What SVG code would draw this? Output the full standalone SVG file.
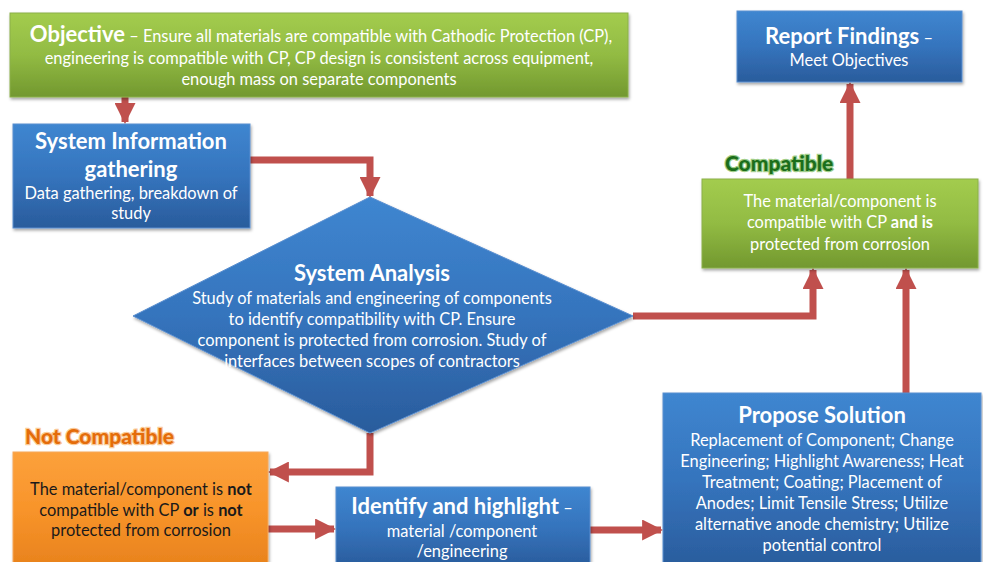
<svg xmlns="http://www.w3.org/2000/svg" width="983" height="562" viewBox="0 0 983 562">
<defs>
<linearGradient id="gGreen" x1="0" y1="0" x2="0" y2="1">
<stop offset="0" stop-color="#a3cc4e"/><stop offset="0.5" stop-color="#92bb43"/><stop offset="1" stop-color="#72982f"/>
</linearGradient>
<linearGradient id="gBlue" x1="0" y1="0" x2="0" y2="1">
<stop offset="0" stop-color="#3f86d0"/><stop offset="0.5" stop-color="#3574bd"/><stop offset="1" stop-color="#2a5c9c"/>
</linearGradient>
<linearGradient id="gOrange" x1="0" y1="0" x2="0" y2="1">
<stop offset="0" stop-color="#fca13c"/><stop offset="0.5" stop-color="#f8942a"/><stop offset="1" stop-color="#e8821d"/>
</linearGradient>
<filter id="sh" x="-5%" y="-5%" width="110%" height="115%">
<feDropShadow dx="1" dy="2" stdDeviation="1.5" flood-color="#000" flood-opacity="0.35"/>
</filter>
<marker id="ah" viewBox="0 0 10 10" refX="9" refY="5" markerWidth="3" markerHeight="3" orient="auto" markerUnits="strokeWidth">
<path d="M0,0 L10,5 L0,10 z" fill="#c0504d"/>
</marker>
<style>
.t{font-family:Lato,"Liberation Sans",sans-serif;fill:#fff;text-anchor:middle}
.h{font-weight:bold;font-size:22px}
.b{font-size:16.4px}
.dk{fill:#1a1a1a}
.con{fill:none;stroke:#c0504d;stroke-width:7;marker-end:url(#ah)}
.lbl{font-family:Lato,"Liberation Sans",sans-serif;font-weight:900;font-size:21px;stroke-width:2.5;paint-order:stroke}
</style>
</defs>

<g id="connectors">
<path class="con" d="M125,97 V122"/>
<path class="con" d="M250,160 H370 V196"/>
<path class="con" d="M633,316 H813 V270"/>
<path class="con" d="M906,393 V270"/>
<path class="con" d="M850,179 V84"/>
<path class="con" d="M370,433 V472 H270"/>
<path class="con" d="M268,529 H334"/>
<path class="con" d="M590,530 H661"/>
</g>

<g id="objective">
<rect x="10" y="13" width="618" height="84" fill="url(#gGreen)" stroke="#8bb04a" stroke-width="1" filter="url(#sh)"/>
<text class="t" x="321" y="42"><tspan class="h" font-size="24">Objective</tspan><tspan class="b" font-size="16.8"> – Ensure all materials are compatible with Cathodic Protection (CP),</tspan></text>
<text class="t b" x="319" y="64" font-size="16.8">engineering is compatible with CP, CP design is consistent across equipment,</text>
<text class="t b" x="319" y="85" font-size="16.8">enough mass on separate components</text>
</g>

<g id="report">
<rect x="737" y="11" width="225" height="71" fill="url(#gBlue)" stroke="#5a8fd0" stroke-width="1" filter="url(#sh)"/>
<text class="t" x="849" y="44"><tspan class="h">Report Findings</tspan><tspan class="b" font-size="20"> –</tspan></text>
<text class="t b" x="849" y="66">Meet Objectives</text>
</g>

<g id="sysinfo">
<rect x="13" y="124" width="237" height="104" fill="url(#gBlue)" stroke="#5a8fd0" stroke-width="1" filter="url(#sh)"/>
<text class="t h" x="131" y="149">System Information</text>
<text class="t h" x="131" y="177">gathering</text>
<text class="t b" x="131" y="199">Data gathering, breakdown of</text>
<text class="t b" x="131" y="219">study</text>
</g>

<g id="analysis">
<polygon points="370,197 633,316 370,433 133,316" fill="url(#gBlue)" stroke="#5a8fd0" stroke-width="1" filter="url(#sh)"/>
<text class="t h" x="372" y="281">System Analysis</text>
<text class="t b" x="372" y="304">Study of materials and engineering of components</text>
<text class="t b" x="372" y="325">to identify compatibility with CP. Ensure</text>
<text class="t b" x="372" y="346">component is protected from corrosion. Study of</text>
<text class="t b" x="372" y="367">interfaces between scopes of contractors</text>
</g>

<g id="compatible">
<text class="lbl" x="725" y="171" fill="#1b6e1b" stroke="#5fae3a" stroke-opacity="0.6">Compatible</text>
<rect x="702" y="179" width="276" height="89" fill="url(#gGreen)" stroke="#8bb04a" stroke-width="1" filter="url(#sh)"/>
<text class="t b" x="840" y="207">The material/component is</text>
<text class="t b" x="840" y="228">compatible with CP <tspan font-weight="bold">and is</tspan></text>
<text class="t b" x="840" y="250">protected from corrosion</text>
</g>

<g id="notcompatible">
<text class="lbl" x="25" y="444" fill="#e46c0a" stroke="#f9b26a" stroke-opacity="0.7">Not Compatible</text>
<rect x="13" y="452" width="255" height="115" fill="url(#gOrange)" stroke="#f5a75a" stroke-width="1" filter="url(#sh)"/>
<text class="t b dk" x="141" y="495">The material/component is <tspan font-weight="bold">not</tspan></text>
<text class="t b dk" x="141" y="516">compatible with CP <tspan font-weight="bold">or</tspan> is <tspan font-weight="bold">not</tspan></text>
<text class="t b dk" x="141" y="536">protected from corrosion</text>
</g>

<g id="identify">
<rect x="336" y="487" width="254" height="80" fill="url(#gBlue)" stroke="#5a8fd0" stroke-width="1" filter="url(#sh)"/>
<text class="t" x="462" y="514"><tspan class="h" font-size="21">Identify and highlight</tspan><tspan class="b" font-size="17"> –</tspan></text>
<text class="t b" x="462" y="537">material /component</text>
<text class="t b" x="462" y="557">/engineering</text>
</g>

<g id="propose">
<rect x="663" y="393" width="318" height="175" fill="url(#gBlue)" stroke="#5a8fd0" stroke-width="1" filter="url(#sh)"/>
<text class="t h" x="822" y="423">Propose Solution</text>
<text class="t b" x="822" y="446">Replacement of Component; Change</text>
<text class="t b" x="822" y="467">Engineering; Highlight Awareness; Heat</text>
<text class="t b" x="822" y="488">Treatment; Coating; Placement of</text>
<text class="t b" x="822" y="509">Anodes; Limit Tensile Stress; Utilize</text>
<text class="t b" x="822" y="530">alternative anode chemistry; Utilize</text>
<text class="t b" x="822" y="551">potential control</text>
</g>
</svg>
